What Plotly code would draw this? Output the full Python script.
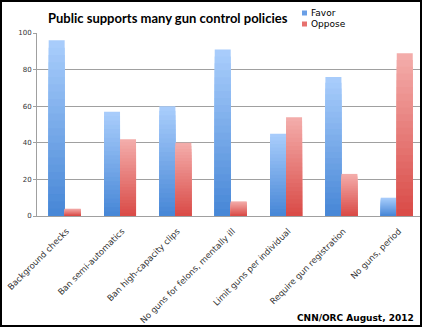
import plotly.graph_objects as go

categories = ["Background checks", "Ban semi-automatics", "Ban high-capacity clips",
              "No guns for felons, mentally ill", "Limit guns per individual",
              "Require gun registration", "No guns, period"]
favor = [96, 57, 60, 91, 45, 76, 10]
oppose = [4, 42, 40, 8, 54, 23, 89]
y_ticks = [0, 20, 40, 60, 80, 100]

title_text = "Public supports many gun control policies"
source_text = "CNN/ORC August, 2012"

W, H = 422, 327
L, R, T, B = 37, 2, 33, 111
PW, PH = W - L - R, H - T - B

def px_x(x):
    return (x - L) / PW

def px_y(y):
    return (H - B - y) / PH

def hex2rgb(h):
    h = h.lstrip("#")
    return tuple(int(h[i:i + 2], 16) for i in (0, 2, 4))

def mix(c1, c2, t):
    a, b = hex2rgb(c1), hex2rgb(c2)
    return "rgb(%d,%d,%d)" % tuple(round(a[i] + (b[i] - a[i]) * t) for i in range(3))

series = [
    ("Favor", favor, "#aacefc", "#4686d6", -0.289),
    ("Oppose", oppose, "#f4aeac", "#d94a46", 0.0),
]

N = 24
fig = go.Figure()
for name, vals, top, bot, off in series:
    for i in range(N):
        f = i / N
        fig.add_trace(go.Bar(
            x=categories,
            y=[v * (1 - f) for v in vals],
            name=name,
            width=0.289,
            offset=off,
            marker=dict(color=mix(top, bot, (i + 0.5) / N), line=dict(width=0)),
            showlegend=False,
            hoverinfo="skip",
        ))

fig.update_layout(
    width=W, height=H,
    margin=dict(l=L, r=R, t=T, b=B),
    barmode="overlay",
    paper_bgcolor="white",
    plot_bgcolor="white",
    showlegend=False,
    title=dict(text="<b>" + title_text + "</b>", x=48 / W, xanchor="left",
               y=1 - 18 / H, yanchor="middle",
               font=dict(family="Lato", size=13, color="#000000")),
    xaxis=dict(
        range=[-0.5, 6.42],
        tickangle=-45,
        tickfont=dict(family="DejaVu Sans", size=8.5, color="#333333"),
        ticklabelstandoff=6,
        ticklabelshift=2,
        automargin=False,
        showline=True, linecolor="#a0a0a0", linewidth=1,
        showgrid=False, ticks="",
        fixedrange=True,
    ),
    yaxis=dict(
        range=[0, 100],
        tickvals=y_ticks,
        tickfont=dict(family="DejaVu Sans", size=7, color="#333333"),
        automargin=False,
        showline=True, linecolor="#a0a0a0", linewidth=1,
        showgrid=True, gridcolor="#a0a0a0", gridwidth=1,
        ticks="outside", ticklen=3, tickcolor="#a0a0a0",
        zeroline=False,
        fixedrange=True,
    ),
)

# legend (manual, to match compact original)
leg = [("Favor", "#6a9fe6", 13), ("Oppose", "#e7716e", 24)]
for name, col, yc in leg:
    fig.add_shape(type="rect", xref="paper", yref="paper",
                  x0=px_x(302), x1=px_x(307), y0=px_y(yc + 2.5), y1=px_y(yc - 2.5),
                  fillcolor=col, line=dict(width=0))
    fig.add_annotation(text=name, xref="paper", yref="paper",
                       x=px_x(308.5), y=px_y(yc), xanchor="left", yanchor="middle",
                       showarrow=False,
                       font=dict(family="DejaVu Sans", size=9, color="#000000"))

fig.add_annotation(text="<b>" + source_text + "</b>", xref="paper", yref="paper",
                   x=px_x(416), y=px_y(318), xanchor="right", yanchor="middle",
                   showarrow=False,
                   font=dict(family="DejaVu Sans", size=9, color="#000000"))

# outer black frame
fig.add_shape(type="rect", xref="paper", yref="paper",
              x0=px_x(1), x1=px_x(421), y0=px_y(326), y1=px_y(1),
              line=dict(color="black", width=2), fillcolor="rgba(0,0,0,0)")

fig.write_html("out.html")
